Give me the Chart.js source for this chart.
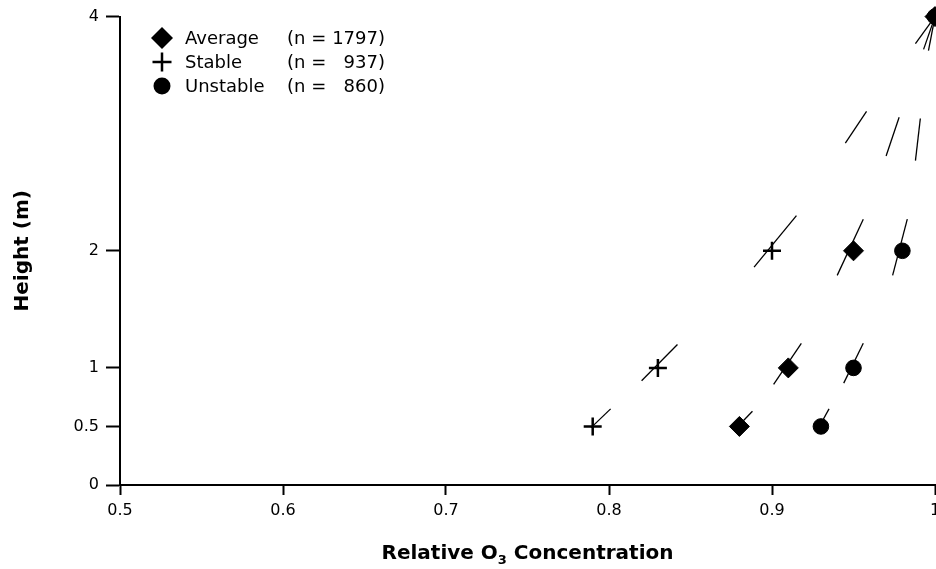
<!DOCTYPE html>
<html>
<head>
<meta charset="utf-8">
<script src="https://cdn.jsdelivr.net/npm/chart.js@4/dist/chart.umd.min.js"></script>
<style>
  html, body { margin: 0; padding: 0; background: #fff; overflow: hidden; }
  #wrap { width: 936px; height: 569px; overflow: hidden; }
</style>
</head>
<body>
<div id="wrap"><canvas id="chart" width="980" height="569"></canvas></div>
<script>
// heights (m) and relative O3 concentration at each height
const heights = [0.5, 1, 2, 4];
const averageConc = [0.88, 0.91, 0.95, 1.0];
const stableConc = [0.79, 0.83, 0.90, 1.0];
const unstableConc = [0.93, 0.95, 0.98, 1.0];

// short gradient segments [x1, y1, x2, y2]
const stableSlopes = [
    [0.789, 0.49, 0.801, 0.65],
    [0.820, 0.89, 0.842, 1.20],
    [0.889, 1.86, 0.915, 2.30],
    [0.945, 2.92, 0.958, 3.19],
    [0.988, 3.77, 1.000, 4.00]
];
const averageSlopes = [
    [0.879, 0.50, 0.888, 0.63],
    [0.901, 0.86, 0.918, 1.21],
    [0.940, 1.79, 0.956, 2.27],
    [0.970, 2.81, 0.978, 3.14],
    [0.993, 3.72, 1.000, 4.00]
];
const unstableSlopes = [
    [0.929, 0.50, 0.935, 0.65],
    [0.944, 0.87, 0.956, 1.21],
    [0.974, 1.79, 0.983, 2.27],
    [0.988, 2.77, 0.991, 3.13],
    [0.996, 3.71, 1.000, 4.00]
];

const xTicks = [0.5, 0.6, 0.7, 0.8, 0.9, 1];
const yTicks = [0, 0.5, 1, 2, 4];

const legendNames = ['Average', 'Stable', 'Unstable'];
const legendCounts = ['1797', '937', '860'];

const FONT = '"DejaVu Sans", "Liberation Sans", Arial, sans-serif';

function toPoints(xs) {
    return xs.map((x, i) => ({ x: x, y: heights[i] }));
}

function segDataset(seg) {
    return {
        data: [{ x: seg[0], y: seg[1] }, { x: seg[2], y: seg[3] }],
        showLine: true,
        borderColor: '#000',
        borderWidth: 1.3,
        pointRadius: 0,
        clip: false
    };
}

const markerSets = [
    { label: 'Average', data: toPoints(averageConc), pointStyle: 'rectRot', pointRadius: 10,
      backgroundColor: '#000', borderColor: '#000', borderWidth: 1, clip: false },
    { label: 'Stable', data: toPoints(stableConc), pointStyle: 'cross', pointRadius: 9,
      backgroundColor: '#000', borderColor: '#000', borderWidth: 2.5, clip: false },
    { label: 'Unstable', data: toPoints(unstableConc), pointStyle: 'circle', pointRadius: 7.8,
      backgroundColor: '#000', borderColor: '#000', borderWidth: 1, clip: false }
];

const segSets = [...stableSlopes, ...averageSlopes, ...unstableSlopes].map(segDataset);

// legend marker drawing
function drawMark(ctx, kind, x, y) {
    ctx.save();
    ctx.fillStyle = '#000';
    ctx.strokeStyle = '#000';
    ctx.beginPath();
    if (kind === 0) {
        const r = 11;
        ctx.moveTo(x - r, y); ctx.lineTo(x, y - r); ctx.lineTo(x + r, y); ctx.lineTo(x, y + r);
        ctx.closePath();
        ctx.fill();
    } else if (kind === 1) {
        const r = 9.5;
        ctx.lineWidth = 2.5;
        ctx.moveTo(x - r, y); ctx.lineTo(x + r, y);
        ctx.moveTo(x, y - r); ctx.lineTo(x, y + r);
        ctx.stroke();
    } else {
        ctx.arc(x, y, 8.5, 0, Math.PI * 2);
        ctx.fill();
    }
    ctx.restore();
}

const annotationsPlugin = {
    id: 'annotations',
    afterDraw(chart) {
        const ctx = chart.ctx;
        const area = chart.chartArea;
        ctx.save();
        ctx.fillStyle = '#000';

        // legend
        ctx.font = '18px ' + FONT;
        ctx.textBaseline = 'alphabetic';
        legendNames.forEach((name, i) => {
            const base = 44 + i * 24;
            drawMark(ctx, i, 162, base - 6);
            ctx.textAlign = 'left';
            ctx.fillText(name, 185, base);
            ctx.fillText('(n =', 287, base);
            ctx.textAlign = 'right';
            ctx.fillText(legendCounts[i] + ')', 385, base);
        });

        // y title
        ctx.save();
        ctx.translate(23, (area.top + area.bottom) / 2);
        ctx.rotate(-Math.PI / 2);
        ctx.font = 'bold 20px ' + FONT;
        ctx.textAlign = 'center';
        ctx.textBaseline = 'middle';
        ctx.fillText('Height (m)', 0, 0);
        ctx.restore();

        // x title with subscript
        const p1 = 'Relative O', sub = '3', p2 = ' Concentration';
        ctx.textAlign = 'left';
        ctx.textBaseline = 'alphabetic';
        ctx.font = 'bold 20px ' + FONT;
        const w1 = ctx.measureText(p1).width;
        const w3 = ctx.measureText(p2).width;
        ctx.font = 'bold 13px ' + FONT;
        const w2 = ctx.measureText(sub).width;
        const cx = (area.left + area.right) / 2;
        let x = cx - (w1 + w2 + w3) / 2;
        const base = 559;
        ctx.font = 'bold 20px ' + FONT;
        ctx.fillText(p1, x, base);
        ctx.font = 'bold 13px ' + FONT;
        ctx.fillText(sub, x + w1, base + 5);
        ctx.font = 'bold 20px ' + FONT;
        ctx.fillText(p2, x + w1 + w2, base);
        ctx.restore();
    }
};

new Chart(document.getElementById('chart'), {
    type: 'scatter',
    data: { datasets: [...markerSets, ...segSets] },
    options: {
        responsive: false,
        animation: false,
        devicePixelRatio: 1,
        layout: { padding: { left: 0, top: 16, right: 45, bottom: 0 } },
        plugins: {
            legend: { display: false },
            tooltip: { enabled: false }
        },
        scales: {
            x: {
                type: 'linear',
                min: 0.5,
                max: 1,
                afterBuildTicks: scale => { scale.ticks = xTicks.map(v => ({ value: v })); },
                afterFit: scale => { scale.height = 84; },
                ticks: {
                    color: '#000',
                    font: { family: FONT, size: 16 },
                    padding: 6,
                    maxRotation: 0,
                    callback: v => String(v)
                },
                grid: { drawOnChartArea: false, drawTicks: true, tickLength: 10, tickWidth: 2, tickColor: '#000' },
                border: { display: true, color: '#000', width: 2 }
            },
            y: {
                type: 'linear',
                min: 0,
                max: 4,
                afterBuildTicks: scale => { scale.ticks = yTicks.map(v => ({ value: v })); },
                afterFit: scale => { scale.width = 120; },
                ticks: {
                    color: '#000',
                    font: { family: FONT, size: 16 },
                    padding: 7,
                    callback: v => String(v)
                },
                grid: { drawOnChartArea: false, drawTicks: true, tickLength: 14, tickWidth: 2, tickColor: '#000' },
                border: { display: true, color: '#000', width: 2 }
            }
        }
    },
    plugins: [annotationsPlugin]
});
</script>
</body>
</html>
